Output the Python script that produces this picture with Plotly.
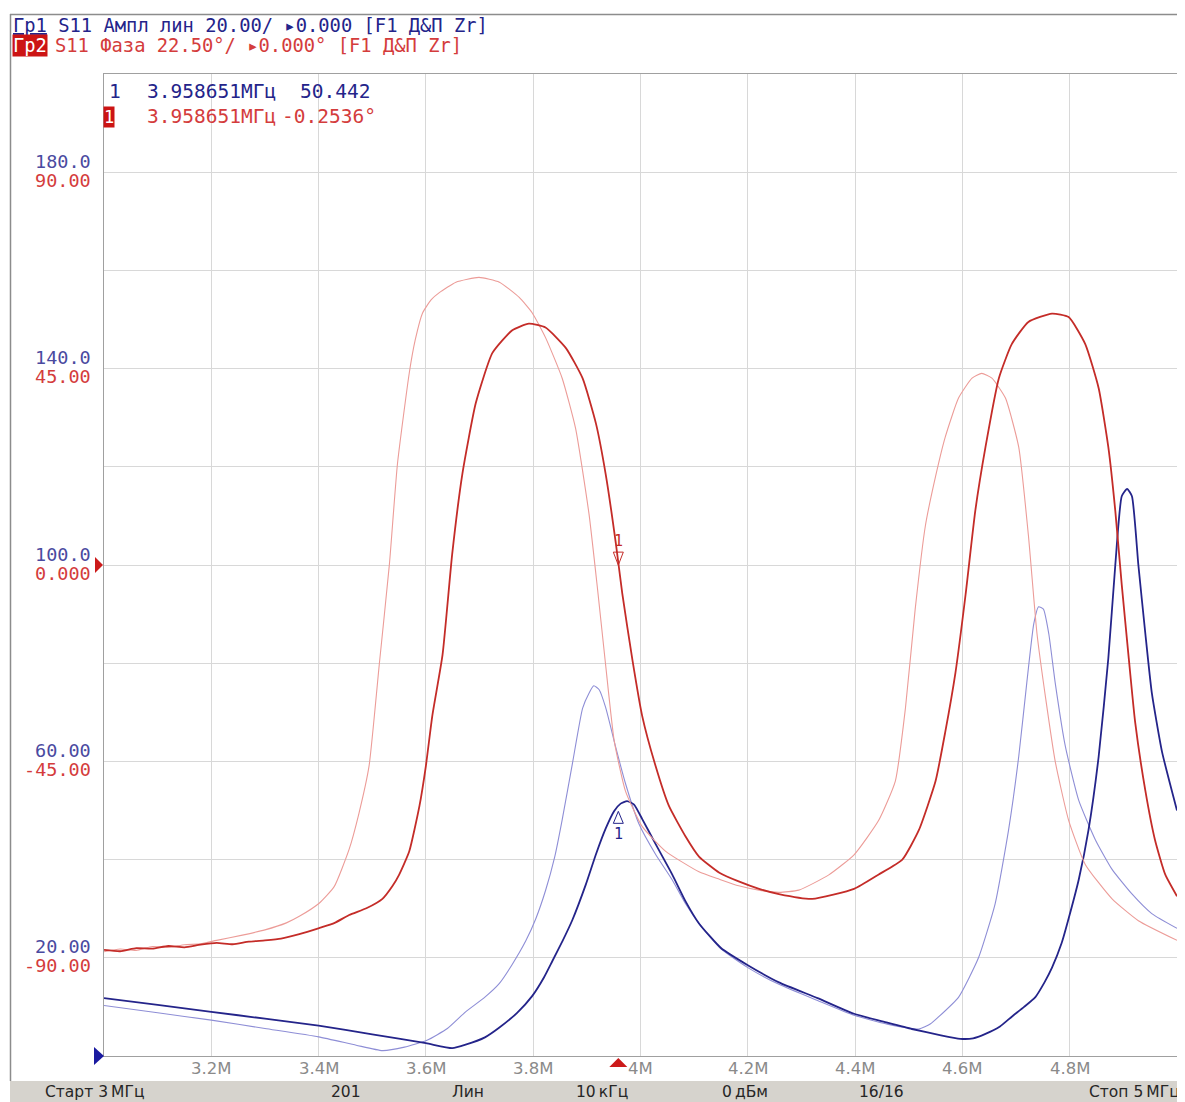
import plotly.graph_objects as go

# ---------------- data ----------------
# Trace 1, S11 amplitude (linear), current trace (dark blue)
f_amp_now = [3.000, 3.100, 3.200, 3.300, 3.400, 3.500, 3.600, 3.649, 3.674, 3.710, 3.737, 3.770,
             3.798, 3.820, 3.836, 3.855, 3.873, 3.898, 3.917, 3.935, 3.951, 3.963, 3.975, 3.988,
             4.003, 4.028, 4.059, 4.084, 4.109, 4.150, 4.200, 4.258, 4.330, 4.398, 4.460, 4.506,
             4.560, 4.596, 4.620, 4.643, 4.670, 4.692, 4.715, 4.736, 4.753, 4.767, 4.785, 4.798,
             4.817, 4.835, 4.854, 4.872, 4.885, 4.897, 4.907, 4.916, 4.928, 4.941, 4.953, 4.972, 5.000]
amp_now = [11.8, 10.4, 9.0, 7.6, 6.2, 4.4, 2.6, 1.6, 2.3, 3.8, 5.8, 8.8,
           12.2, 16.0, 19.4, 23.5, 27.7, 34.9, 41.1, 46.3, 49.9, 51.4, 51.9, 51.2,
           48.3, 43.2, 37.0, 31.5, 27.0, 22.0, 18.5, 15.0, 11.8, 8.6, 6.8, 5.5,
           4.2, 3.5, 3.6, 4.5, 6.0, 8.0, 10.0, 12.0, 15.0, 18.0, 23.0, 28.0,
           36.0, 46.0, 61.0, 81.0, 100.0, 114.0, 115.5, 114.0, 100.0, 86.0, 74.0, 62.0, 50.0]

# Trace 1 memory (light blue)
f_amp_mem = [3.000, 3.100, 3.200, 3.300, 3.400, 3.470, 3.519, 3.560, 3.602, 3.640, 3.674, 3.710,
             3.737, 3.760, 3.786, 3.805, 3.823, 3.840, 3.854, 3.873, 3.892, 3.904, 3.913, 3.923,
             3.935, 3.954, 3.972, 3.997, 4.028, 4.059, 4.084, 4.109, 4.150, 4.200, 4.258, 4.330,
             4.398, 4.460, 4.519, 4.540, 4.556, 4.593, 4.630, 4.661, 4.686, 4.705, 4.720, 4.733,
             4.742, 4.751, 4.761, 4.773, 4.792, 4.817, 4.848, 4.879, 4.916, 4.953, 5.000]
amp_mem = [10.3, 8.8, 7.3, 5.6, 3.9, 2.2, 1.1, 1.8, 3.2, 5.6, 9.0, 12.0,
           14.8, 18.5, 23.4, 28.0, 33.7, 40.5, 48.1, 59.5, 70.8, 73.9, 75.4, 74.6,
           71.0, 62.8, 55.5, 47.3, 41.1, 35.9, 31.0, 27.0, 21.8, 18.0, 14.6, 11.3,
           8.3, 6.5, 5.5, 6.5, 8.0, 12.0, 20.0, 31.0, 46.0, 61.0, 76.0, 88.0,
           91.5, 91.0, 86.0, 76.0, 63.0, 52.0, 44.0, 38.0, 33.0, 29.0, 26.0]

# Trace 2, S11 phase (deg), current trace (dark red)
f_ph_now = [3.000, 3.030, 3.060, 3.090, 3.120, 3.150, 3.180, 3.210, 3.240, 3.270, 3.300, 3.330,
            3.364, 3.401, 3.430, 3.457, 3.490, 3.519, 3.538, 3.550, 3.569, 3.588, 3.600, 3.612,
            3.631, 3.649, 3.668, 3.693, 3.724, 3.761, 3.792, 3.823, 3.861, 3.892, 3.917, 3.935,
            3.954, 3.966, 3.985, 4.003, 4.028, 4.053, 4.084, 4.109, 4.147, 4.183, 4.221, 4.258,
            4.320, 4.398, 4.444, 4.488, 4.519, 4.550, 4.568, 4.587, 4.606, 4.624, 4.643, 4.668,
            4.692, 4.723, 4.767, 4.798, 4.829, 4.854, 4.872, 4.885, 4.897, 4.910, 4.922, 4.941,
            4.959, 4.978, 5.000]
ph_now = [-88.2, -88.5, -87.8, -87.9, -87.3, -87.6, -87.0, -86.6, -86.9, -86.3, -86.0, -85.6,
          -84.6, -83.2, -82.0, -80.2, -78.6, -76.5, -73.5, -71.0, -65.6, -55.2, -46.0, -34.5,
          -20.6, 2.5, 20.9, 37.1, 48.6, 53.8, 55.3, 54.4, 49.7, 42.8, 32.4, 20.9,
          5.0, -6.5, -21.8, -34.5, -46.0, -55.2, -62.2, -66.8, -70.5, -72.5, -74.2, -75.4,
          -76.5, -74.2, -70.9, -67.5, -60.7, -49.5, -38.3, -24.7, -6.7, 12.4, 27.0, 42.8,
          50.6, 55.7, 57.6, 56.8, 50.6, 40.5, 27.0, 12.4, -4.5, -21.3, -36.0, -51.7,
          -63.0, -70.9, -75.9]

# Trace 2 memory (light red)
f_ph_mem = [3.000, 3.030, 3.060, 3.090, 3.120, 3.150, 3.180, 3.210, 3.258, 3.300, 3.340, 3.364,
            3.401, 3.429, 3.457, 3.475, 3.494, 3.513, 3.532, 3.547, 3.569, 3.580, 3.594, 3.610,
            3.625, 3.656, 3.699, 3.737, 3.774, 3.798, 3.823, 3.854, 3.879, 3.904, 3.920, 3.935,
            3.951, 3.972, 4.003, 4.047, 4.109, 4.147, 4.183, 4.221, 4.258, 4.295, 4.351, 4.398,
            4.444, 4.475, 4.494, 4.512, 4.531, 4.550, 4.568, 4.593, 4.618, 4.636, 4.655, 4.680,
            4.705, 4.723, 4.739, 4.755, 4.773, 4.798, 4.829, 4.879, 4.928, 5.000]
ph_mem = [-88.6, -88.0, -88.3, -87.4, -87.6, -87.0, -86.8, -86.0, -84.8, -83.6, -82.0, -80.5,
          -77.5, -73.7, -65.1, -57.0, -46.1, -22.9, 0.2, 23.2, 44.0, 51.5, 57.8, 60.8,
          62.4, 64.8, 65.9, 64.8, 61.3, 57.8, 52.1, 42.8, 31.3, 11.7, -5.6, -22.9,
          -40.3, -51.8, -59.9, -65.6, -70.3, -72.0, -73.5, -74.5, -75.0, -74.5, -71.0, -66.4,
          -58.5, -49.5, -32.6, -10.1, 9.0, 20.3, 29.3, 38.3, 42.8, 43.9, 42.8, 38.3,
          27.0, 6.8, -15.7, -30.4, -45.0, -58.5, -68.6, -76.5, -81.5, -86.0]

# marker 1
marker_freq = 3.958651
marker_amp = 50.442
marker_phase = -0.2536

# axis ticks
x_ticks = [3.2, 3.4, 3.6, 3.8, 4.0, 4.2, 4.4, 4.6, 4.8]
x_tick_labels = ['3.2M', '3.4M', '3.6M', '3.8M', '4M', '4.2M', '4.4M', '4.6M', '4.8M']
amp_ticks = [20, 60, 100, 140, 180]
amp_tick_labels = ['20.00', '60.00', '100.0', '140.0', '180.0']
ph_ticks = [-90, -45, 0, 45, 90]
ph_tick_labels = ['-90.00', '-45.00', '0.000', '45.00', '90.00']

header1 = '<u>Гр1</u> S11 Ампл лин 20.00/ ▸0.000 [F1 Д&amp;П Zr]'
header2_tag = 'Гр2'
header2 = 'S11 Фаза 22.50°/ ▸0.000° [F1 Д&amp;П Zr]'
status_items = [('Старт 3\u2009МГц', 43, 'left'), ('201', 346, 'center'), ('Лин', 468, 'center'),
                ('10\u2009кГц', 602, 'center'), ('0\u2009дБм', 745, 'center'),
                ('16/16', 881, 'center'), ('Стоп 5\u2009МГц', 1087, 'left')]

# ---------------- layout helpers ----------------
# The page body has an 8 px default margin: the figure is drawn 8 px smaller and
# all reference page pixels are converted with that offset.
OFF = 8
PAGE_W, PAGE_H = 1185, 1102
W, H = PAGE_W - OFF, PAGE_H - OFF
PLOT_L, PLOT_R, PLOT_T, PLOT_B = 104, 1177, 74, 1056   # page pixels of the plot frame
L, R, T, B = PLOT_L - OFF, PAGE_W - PLOT_R, PLOT_T - OFF, PAGE_H - PLOT_B
PW = W - L - R
PH = H - T - B


def px_x(X):
    return (X - PLOT_L) / PW


def px_y(Y):
    return (PLOT_B - Y) / PH


NAVY = '#24248a'
BLUE_L = '#8e8ed6'
RED_D = '#c42c28'
RED_L = '#ec9c98'
RED_TXT = '#d43c3c'
MONO = 'DejaVu Sans Mono'
SANS = 'DejaVu Sans'
GRID = '#d8d8d8'

fig = go.Figure()
fig.add_trace(go.Scatter(x=f_amp_mem, y=amp_mem, mode='lines', yaxis='y',
                         line=dict(color=BLUE_L, width=1.1, shape='spline', smoothing=0.5)))
fig.add_trace(go.Scatter(x=f_ph_mem, y=ph_mem, mode='lines', yaxis='y2',
                         line=dict(color=RED_L, width=1.1, shape='spline', smoothing=0.5)))
fig.add_trace(go.Scatter(x=f_ph_now, y=ph_now, mode='lines', yaxis='y2',
                         line=dict(color=RED_D, width=1.8, shape='spline', smoothing=0.5)))
fig.add_trace(go.Scatter(x=f_amp_now, y=amp_now, mode='lines', yaxis='y',
                         line=dict(color=NAVY, width=1.8, shape='spline', smoothing=0.5)))

ann = []
# x tick labels
for v, t in zip(x_ticks, x_tick_labels):
    ann.append(dict(x=v, xref='x', y=px_y(1068), yref='paper', text=t, showarrow=False,
                    xanchor='center', yanchor='middle', font=dict(family=SANS, size=16.5, color='#8a8a8a')))
# y labels (two-colour pairs)
for v, t in zip(amp_ticks, amp_tick_labels):
    ann.append(dict(x=px_x(93), xref='paper', y=v, yref='y', text=t, showarrow=False,
                    xanchor='right', yanchor='middle', yshift=11,
                    font=dict(family=MONO, size=18.5, color='#4a4aa0')))
for v, t in zip(ph_ticks, ph_tick_labels):
    ann.append(dict(x=px_x(93), xref='paper', y=v, yref='y2', text=t, showarrow=False,
                    xanchor='right', yanchor='middle', yshift=-8,
                    font=dict(family=MONO, size=18.5, color=RED_TXT)))
# header
ann.append(dict(x=px_x(11), xref='paper', y=px_y(26), yref='paper', text=header1, showarrow=False,
                xanchor='left', yanchor='middle', font=dict(family=MONO, size=18.8, color=NAVY)))
ann.append(dict(x=px_x(12), xref='paper', y=px_y(45), yref='paper', text=header2_tag, showarrow=False,
                xanchor='left', yanchor='middle', bgcolor='#cc1414', borderpad=0,
                font=dict(family=MONO, size=18.8, color='white')))
ann.append(dict(x=px_x(53), xref='paper', y=px_y(45), yref='paper', text=header2, showarrow=False,
                xanchor='left', yanchor='middle', font=dict(family=MONO, size=18.8, color=RED_TXT)))
# marker readout box
ann.append(dict(x=px_x(107), xref='paper', y=px_y(91), yref='paper', text='1', showarrow=False,
                xanchor='left', yanchor='middle', font=dict(family=MONO, size=19.5, color=NAVY)))
ann.append(dict(x=px_x(145), xref='paper', y=px_y(91), yref='paper', text=f'{marker_freq:.6f}МГц',
                showarrow=False, xanchor='left', yanchor='middle',
                font=dict(family=MONO, size=19.5, color=NAVY)))
ann.append(dict(x=px_x(298), xref='paper', y=px_y(91), yref='paper', text=f'{marker_amp:.3f}',
                showarrow=False, xanchor='left', yanchor='middle',
                font=dict(family=MONO, size=19.5, color=NAVY)))
ann.append(dict(x=px_x(103), xref='paper', y=px_y(117), yref='paper', text='1', showarrow=False,
                xanchor='left', yanchor='middle', bgcolor='#cc1414', borderpad=0,
                font=dict(family=MONO, size=17, color='white')))
ann.append(dict(x=px_x(145), xref='paper', y=px_y(117), yref='paper', text=f'{marker_freq:.6f}МГц',
                showarrow=False, xanchor='left', yanchor='middle',
                font=dict(family=MONO, size=19.5, color=RED_TXT)))
ann.append(dict(x=px_x(280), xref='paper', y=px_y(117), yref='paper', text=f'{marker_phase:.4f}°',
                showarrow=False, xanchor='left', yanchor='middle',
                font=dict(family=MONO, size=19.5, color=RED_TXT)))
# marker labels on traces
ann.append(dict(x=marker_freq, xref='x', y=marker_amp, yref='y', text='1', showarrow=False,
                xanchor='center', yanchor='middle', yshift=-26,
                font=dict(family=MONO, size=15, color=NAVY)))
ann.append(dict(x=marker_freq, xref='x', y=marker_phase, yref='y2', text='1', showarrow=False,
                xanchor='center', yanchor='middle', yshift=25,
                font=dict(family=MONO, size=15, color=RED_D)))
# trace end labels at right edge
for yv, yr, t, c in [(amp_now[-1], 'y', '1', NAVY), (ph_now[-1], 'y2', '2', RED_D),
                     (amp_mem[-1], 'y', '1', BLUE_L), (ph_mem[-1], 'y2', '2', RED_L)]:
    ann.append(dict(x=1, xref='paper', y=yv, yref=yr, text=t, showarrow=False, xanchor='left',
                    yanchor='middle', xshift=0, font=dict(family=MONO, size=12, color=c)))
# status bar texts
for t, xp, anc in status_items:
    ann.append(dict(x=px_x(xp), xref='paper', y=px_y(1092), yref='paper', text=t, showarrow=False,
                    xanchor=anc, yanchor='middle', font=dict(family=SANS, size=15.5, color='#262626')))

shapes = []
# status bar
shapes.append(dict(type='rect', xref='paper', yref='paper', x0=px_x(10), x1=px_x(PAGE_W), y0=px_y(1081),
                   y1=px_y(PAGE_H), fillcolor='#d6d3cd', line=dict(width=0), layer='below'))
# outer frame
shapes.append(dict(type='line', xref='paper', yref='paper', x0=px_x(10.5), x1=px_x(10.5), y0=px_y(14),
                   y1=px_y(1081), line=dict(color='#8c8c8c', width=1.5)))
shapes.append(dict(type='line', xref='paper', yref='paper', x0=px_x(10), x1=px_x(PAGE_W), y0=px_y(14.5),
                   y1=px_y(14.5), line=dict(color='#8c8c8c', width=1.5)))
# marker symbols on the traces
shapes.append(dict(type='path', xref='x', yref='y', xsizemode='pixel', ysizemode='pixel',
                   xanchor=marker_freq, yanchor=marker_amp, path='M0,-3 L-5,-15 L5,-15 Z',
                   line=dict(color=NAVY, width=1), fillcolor='rgba(0,0,0,0)'))
shapes.append(dict(type='path', xref='x', yref='y2', xsizemode='pixel', ysizemode='pixel',
                   xanchor=marker_freq, yanchor=marker_phase, path='M0,1 L-5,14 L5,14 Z',
                   line=dict(color=RED_D, width=1), fillcolor='rgba(0,0,0,0)'))
# marker position on the frequency axis
shapes.append(dict(type='path', xref='x', yref='paper', xsizemode='pixel', ysizemode='pixel',
                   xanchor=marker_freq, yanchor=0, path='M-9,-11 L9,-11 L0,-2 Z',
                   line=dict(width=0), fillcolor='#cc1a1a'))
# reference-level triangles
shapes.append(dict(type='path', xref='paper', yref='y2', xsizemode='pixel', ysizemode='pixel',
                   xanchor=0, yanchor=0, path='M-9,8 L-1,0 L-9,-8 Z', line=dict(width=0), fillcolor='#cc1a1a'))
shapes.append(dict(type='path', xref='paper', yref='y2', xsizemode='pixel', ysizemode='pixel',
                   xanchor=1, yanchor=0, path='M9,8 L1,0 L9,-8 Z', line=dict(width=0), fillcolor='#cc1a1a'))
shapes.append(dict(type='path', xref='paper', yref='paper', xsizemode='pixel', ysizemode='pixel',
                   xanchor=0, yanchor=0, path='M-10,9 L0,0 L-10,-9 Z', line=dict(width=0), fillcolor='#1a1aa0'))
shapes.append(dict(type='path', xref='paper', yref='paper', xsizemode='pixel', ysizemode='pixel',
                   xanchor=1, yanchor=0, path='M10,9 L0,0 L10,-9 Z', line=dict(width=0), fillcolor='#1a1aa0'))

fig.update_layout(
    width=W, height=H,
    margin=dict(l=L, r=R, t=T, b=B, pad=0),
    paper_bgcolor='white', plot_bgcolor='white',
    showlegend=False,
    xaxis=dict(range=[3, 5], tick0=3, dtick=0.2, showgrid=True, gridcolor=GRID, gridwidth=1,
               zeroline=False, showticklabels=False, ticks='', showline=True, linecolor='#a0a0a0',
               linewidth=1, mirror=True),
    yaxis=dict(range=[0, 200], tick0=0, dtick=20, showgrid=True, gridcolor=GRID, gridwidth=1,
               zeroline=False, showticklabels=False, ticks='', showline=True, linecolor='#a0a0a0',
               linewidth=1, mirror=True),
    yaxis2=dict(range=[-112.5, 112.5], overlaying='y', visible=False, showgrid=False, zeroline=False),
    annotations=ann,
    shapes=shapes,
)

fig.write_html('out.html', config={'displayModeBar': False})
